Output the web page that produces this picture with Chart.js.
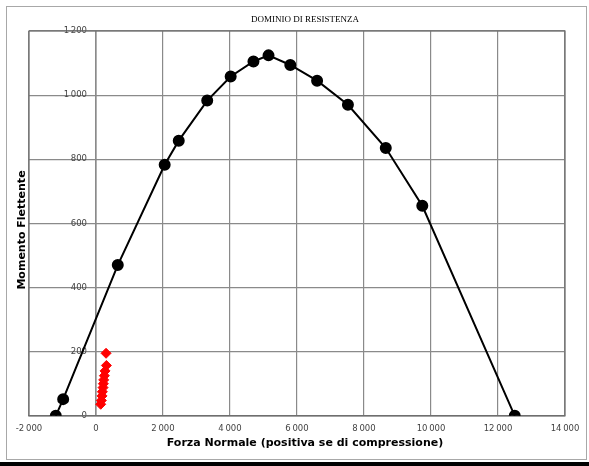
<!DOCTYPE html>
<html lang="it">
<head>
    <meta charset="UTF-8">
    <title>Dominio di resistenza</title>
    <style>
        html, body {
            margin: 0;
            padding: 0;
            background: #fff;
        }
        .frame {
            position: relative;
            width: 589px;
            height: 466px;
            overflow: hidden;
        }
        .frame .outline {
            position: absolute;
            left: 6px;
            top: 6px;
            width: 579px;
            height: 452px;
            border: 1px solid #a8a8a8;
        }
        .frame .rule {
            position: absolute;
            left: 0;
            top: 462px;
            width: 589px;
            height: 4px;
            background: #000;
        }
        .frame canvas {
            position: absolute;
            left: 0;
            top: 0;
        }
    </style>
    <script src="https://cdn.jsdelivr.net/npm/chart.js@4.4.0/dist/chart.umd.min.js"></script>
</head>
<body>
<div class="frame">
    <div class="outline"></div>
    <div class="rule"></div>
    <canvas id="dominioChart" width="589" height="466"></canvas>
</div>

<script>
    // Dominio di resistenza (N, M)
    const normalForce = [-1200, -980, 650, 2050, 2470, 3320, 4020, 4700, 5150, 5800, 6600, 7520, 8650, 9740, 12500];
    const bendingMoment = [0, 52, 470, 783, 858, 983, 1058, 1105, 1124, 1094, 1045, 970, 835, 655, 0];

    // Sollecitazioni di verifica
    const loadN = [300, 310, 270, 250, 230, 220, 210, 190, 180, 160, 140];
    const loadM = [195, 157, 140, 125, 112, 100, 88, 75, 62, 48, 36];

    const xTicks = [-2000, 0, 2000, 4000, 6000, 8000, 10000, 12000, 14000];
    const yTicks = [0, 200, 400, 600, 800, 1000, 1200];

    const chartTitle = 'DOMINIO DI RESISTENZA';
    const xTitle = 'Forza Normale (positiva se di compressione)';
    const yTitle = 'Momento Flettente';

    function fmt(v) {
        const s = Math.abs(v).toString().replace(/\B(?=(\d{3})+(?!\d))/g, '\u2009');
        return (v < 0 ? '-' : '') + s;
    }

    const toPoints = (xs, ys) => xs.map((x, i) => ({ x: x, y: ys[i] }));

    // frame, chart title and axis titles
    const decorations = {
        id: 'decorations',
        beforeDatasetsDraw(chart) {
            const { ctx, chartArea: a } = chart;
            const x0 = chart.scales.x.getPixelForValue(0);
            ctx.save();
            ctx.strokeStyle = '#8a8a8a';
            ctx.lineWidth = 1.2;
            ctx.beginPath();
            ctx.moveTo(x0, a.top);
            ctx.lineTo(x0, a.bottom);
            ctx.stroke();
            ctx.strokeStyle = '#6f6f6f';
            ctx.strokeRect(a.left, a.top, a.right - a.left, a.bottom - a.top);
            ctx.restore();
        },
        afterDraw(chart) {
            const { ctx } = chart;
            ctx.save();
            ctx.fillStyle = '#000';
            ctx.textAlign = 'center';
            ctx.textBaseline = 'middle';
            ctx.font = '9px "Liberation Serif", serif';
            ctx.fillText(chartTitle, 305, 20);
            ctx.font = 'bold 11px "DejaVu Sans", sans-serif';
            ctx.fillText(xTitle, 305, 443);
            ctx.translate(22, 230);
            ctx.rotate(-Math.PI / 2);
            ctx.fillText(yTitle, 0, 0);
            ctx.restore();
        }
    };

    document.addEventListener('DOMContentLoaded', function() {
        const ctx = document.getElementById('dominioChart').getContext('2d');
        new Chart(ctx, {
            type: 'scatter',
            data: {
                datasets: [{
                    label: 'Dominio',
                    data: toPoints(normalForce, bendingMoment),
                    showLine: true,
                    borderColor: '#000',
                    borderWidth: 2,
                    backgroundColor: '#000',
                    pointRadius: 5,
                    pointHoverRadius: 5,
                    tension: 0
                }, {
                    label: 'Sollecitazioni',
                    data: toPoints(loadN, loadM),
                    showLine: false,
                    pointStyle: 'rectRot',
                    backgroundColor: '#ff0000',
                    borderColor: '#ff0000',
                    pointRadius: 5,
                    pointHoverRadius: 5
                }]
            },
            options: {
                responsive: false,
                animation: false,
                layout: { padding: { left: 29, right: 24, top: 31, bottom: 24 } },
                plugins: {
                    legend: { display: false },
                    title: { display: false },
                    tooltip: { enabled: false }
                },
                scales: {
                    x: {
                        type: 'linear',
                        min: -2000,
                        max: 14000,
                        afterBuildTicks: s => { s.ticks = xTicks.map(v => ({ value: v })); },
                        grid: { color: '#8a8a8a', lineWidth: 1.2, drawTicks: false },
                        border: { color: '#6f6f6f', width: 1.2 },
                        ticks: {
                            padding: 8,
                            maxRotation: 0,
                            autoSkip: false,
                            color: '#444',
                            font: { size: 8.5, family: '"DejaVu Sans", sans-serif' },
                            callback: v => fmt(v)
                        }
                    },
                    y: {
                        type: 'linear',
                        // labels sit just left of the N = 0 line
                        position: { x: -270 },
                        min: 0,
                        max: 1200,
                        afterBuildTicks: s => { s.ticks = yTicks.map(v => ({ value: v })); },
                        grid: { color: '#8a8a8a', lineWidth: 1.2, drawTicks: false },
                        border: { display: false },
                        ticks: {
                            color: '#444',
                            font: { size: 8.5, family: '"DejaVu Sans", sans-serif' },
                            callback: v => fmt(v)
                        }
                    }
                }
            },
            plugins: [decorations]
        });
    });
</script>
</body>
</html>
